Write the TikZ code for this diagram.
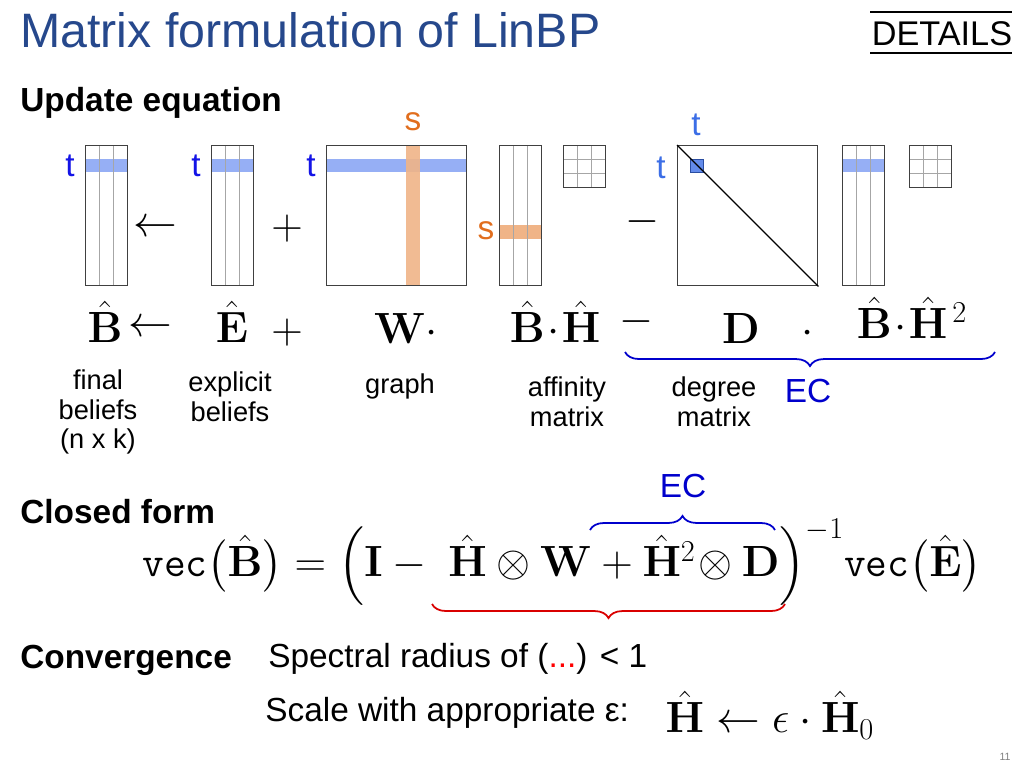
\documentclass[tikz,border=0pt]{standalone}
\usepackage{amsmath}
\usepackage[no-math]{fontspec}
\setmainfont{Liberation Sans}
\usepackage{tikz}
\usetikzlibrary{decorations.pathreplacing}
\definecolor{title-blue}{RGB}{ 38,  72, 140}
\definecolor{row-blue}{RGB}{150, 175, 245}
\definecolor{col-orange}{RGB}{240, 180, 135}
\definecolor{lab-orange}{RGB}{225, 110,  30}
\definecolor{lab-blue}{RGB}{ 20,  20, 230}
\definecolor{lab-blue2}{RGB}{ 60, 110, 230}
\tikzstyle{mat}=[draw=black!75,line width=0.8pt]
\tikzstyle{gridline}=[draw=black!35,line width=0.5pt]
\tikzstyle{txt}=[inner sep=0pt,font=\fontsize{15}{17}\selectfont]
\tikzstyle{lbl}=[txt,align=center,font=\fontsize{15.5}{17}\selectfont]
\tikzstyle{head}=[txt,anchor=west,font=\fontsize{19}{22}\selectfont\bfseries]
\tikzstyle{eq}=[inner sep=0pt,font=\fontsize{24}{28}\selectfont]
\tikzstyle{br}=[decorate,decoration={brace,amplitude=8pt},line width=1pt]
\newcommand{\hB}{\hat{\mathbf{B}}}
\newcommand{\hE}{\hat{\mathbf{E}}}
\newcommand{\hH}{\hat{\mathbf{H}}}

\begin{document}
\begin{tikzpicture}[x=0.02cm,y=-0.02cm]
    \useasboundingbox (0,0) rectangle (1024,768);

    % title
    \node[txt,anchor=west,text=title-blue,font=\fontsize{27.5}{30}\selectfont] (title) at (20,30) {Matrix formulation of LinBP};
    \node[txt,font=\fontsize{19.5}{22}\selectfont] (details) at (942,34) {DETAILS};
    \draw[line width=0.6pt] (870,12) -- (1012,12) (870,53) -- (1012,53);

    \node[head] (update) at (20,103) {Update equation};

    % column matrices (n x k)
    \foreach \name/\x/\band in {Bfin/85/row-blue,Eexp/211/row-blue,Brig/842/row-blue} {
        \fill[\band] (\x,159) rectangle ++(42,13);
        \foreach \i in {14,28} \draw[gridline] (\x+\i,145) -- ++(0,140);
        \node[mat,minimum width=0.84cm,minimum height=2.8cm,anchor=north west] (\name) at (\x,145) {};
    }
    \fill[col-orange] (499,225) rectangle ++(42,14);
    \foreach \i in {14,28} \draw[gridline] (499+\i,145) -- ++(0,140);
    \node[mat,minimum width=0.84cm,minimum height=2.8cm,anchor=north west] (Bmid) at (499,145) {};

    % k x k matrices
    \foreach \name/\x in {Hmid/563,Hrig/909} {
        \foreach \i in {14,28} \draw[gridline] (\x+\i,145) -- ++(0,42) (\x,145+\i) -- ++(42,0);
        \node[mat,minimum size=0.84cm,anchor=north west] (\name) at (\x,145) {};
    }

    % n x n matrices
    \fill[row-blue] (326,159) rectangle (466,172);
    \fill[col-orange,opacity=0.9] (406,145) rectangle (420,285);
    \node[mat,minimum size=2.8cm,anchor=north west] (Wmat) at (326,145) {};
    \fill[lab-blue2!80,draw=lab-blue2!70!black] (690,159) rectangle (703,172);
    \node[mat,minimum size=2.8cm,anchor=north west] (Dmat) at (677,145) {};
    \draw[line width=0.8pt] (Dmat.north west) -- (Dmat.south east);

    % row / column labels
    \foreach \x/\n in {70/a,196/b,311/c} \node[txt,text=lab-blue,font=\fontsize{19}{21}\selectfont] (t\n) at (\x,166) {t};
    \node[txt,text=lab-blue2,font=\fontsize{19}{21}\selectfont] (td1) at (661,168) {t};
    \node[txt,text=lab-blue2,font=\fontsize{19}{21}\selectfont] (td2) at (696,125) {t};
    \node[txt,text=lab-orange,font=\fontsize{19}{21}\selectfont] (sa) at (413,122) {s};
    \node[txt,text=lab-orange,font=\fontsize{19}{21}\selectfont] (sb) at (486,231) {s};

    \node[eq] (opa) at (155,228) {$\leftarrow$};
    \node[eq] (opb) at (287,229) {$+$};
    \node[eq] (opc) at (642,222) {$-$};

    % symbolic equation
    \node[eq] (eB) at (105,322) {$\hB$};
    \node[eq] (eArr) at (150,328) {$\leftarrow$};
    \node[eq] (eE) at (232,322) {$\hE$};
    \node[eq] (ePlus) at (287,333) {$+$};
    \node[eq] (eW) at (406,328) {$\mathbf{W}\cdot$};
    \node[eq] (eBH) at (555,322) {$\hB\!\cdot\!\hH$};
    \node[eq] (eMin) at (636,322) {$-$};
    \node[eq] (eD) at (768,328) {$\mathbf{D}\quad\cdot$};
    \node[eq] (eBH2) at (912,318) {$\hB\!\cdot\!\hH^{\,2}$};

    \draw[br,draw=blue!80!black,decoration={mirror}] (625,352) -- (995,352);
    \node[txt,text=blue!80!black,font=\fontsize{19}{21}\selectfont] (ec1) at (808,391) {EC};

    \node[lbl] (lfinal) at (98,412) {final\\beliefs\\(n x k)};
    \node[lbl] (lexpl) at (230,397) {explicit\\beliefs};
    \node[lbl] (lgraph) at (400,386) {graph};
    \node[lbl] (laff) at (567,402) {affinity\\matrix};
    \node[lbl] (ldeg) at (714,402) {degree\\matrix};

    % closed form
    \node[head] (closed) at (20,512) {Closed form};
    \node[eq] (cform) at (562,562) {$\texttt{vec}\bigl(\hB\bigr)= \Bigl(\mathbf{I}-\;\hH\otimes\mathbf{W}+\hH^{2}\!\otimes\mathbf{D}\Bigr)^{-1}\texttt{vec}\bigl(\hE\bigr)$};
    \draw[br,draw=blue!80!black] (590,530) -- (775,530);
    \node[txt,text=blue!80!black,font=\fontsize{19}{21}\selectfont] (ec2) at (683,486) {EC};
    \draw[br,draw=red!85!black,decoration={mirror}] (432,604) -- (785,604);

    % convergence
    \node[head] (conv) at (20,660) {Convergence};
    \node[txt,anchor=west,font=\fontsize{19}{22}\selectfont] (spec) at (268,659) {Spectral radius of (\textcolor{red}{...}) < 1};
    \node[txt,anchor=west,font=\fontsize{19}{22}\selectfont] (scale) at (265,713) {Scale with appropriate ε:};
    \node[eq] (scaleq) at (770,715) {$\hH\leftarrow\epsilon\cdot\hH_0$};

    \node[txt,text=black!50,font=\fontsize{6}{7}\selectfont] (page) at (1005,757) {11};
\end{tikzpicture}
\end{document}
